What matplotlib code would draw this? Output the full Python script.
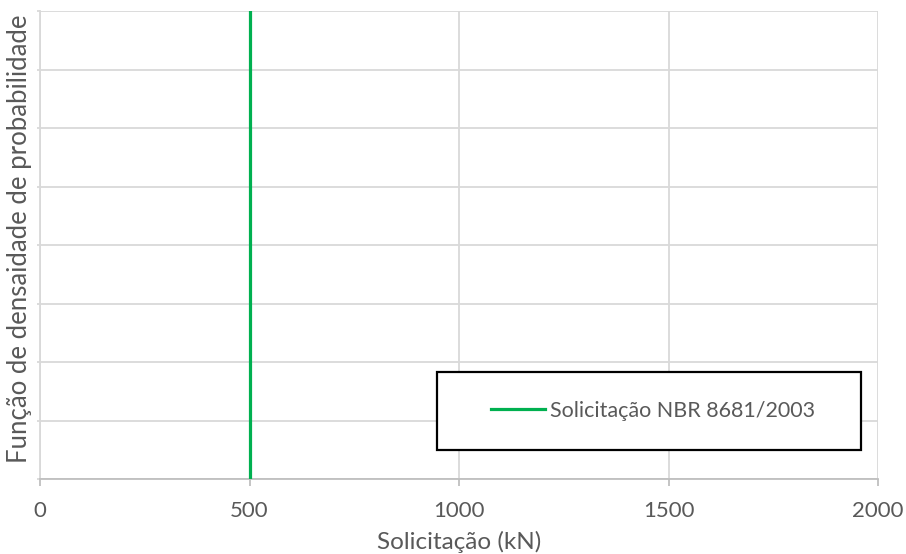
import numpy as np
import matplotlib.pyplot as plt
from matplotlib.patches import Rectangle

plt.rcParams['font.family'] = ['Lato', 'DejaVu Sans']

# design load from NBR 8681/2003 (kN), drawn as a vertical line over the pdf range
solicitacao_x = [500, 500]
densidade_y = [0, 8]
x_ticks = [0, 500, 1000, 1500, 2000]
y_grid = np.arange(0, 9)

fig = plt.figure(figsize=(9.06, 5.54), dpi=100)
ax = fig.add_axes([40 / 906, 1 - 479 / 554, 838 / 906, 468 / 554])

ax.plot(solicitacao_x, densidade_y, color='#00b050', lw=2.3,
        label='Solicitação NBR 8681/2003', zorder=3)

ax.set_xlim(0, 2000)
ax.set_ylim(0, 8)
ax.set_xticks(x_ticks)
ax.set_yticks(y_grid)
ax.set_yticklabels([])
ax.grid(True, color='#d9d9d9', lw=1.3)
ax.set_axisbelow(True)

for side in ['top', 'right']:
    ax.spines[side].set_visible(False)
ax.spines['left'].set_color('#d9d9d9')
ax.spines['left'].set_linewidth(1.3)
ax.spines['bottom'].set_color('#bfbfbf')
ax.spines['bottom'].set_linewidth(1.3)

ax.tick_params(axis='x', colors='#bfbfbf', labelcolor='#595959', labelsize=16,
               length=5, width=1.3, pad=11)
ax.tick_params(axis='y', colors='#d9d9d9', length=2, width=1.3)

ax.set_xlabel('Solicitação (kN)', fontsize=17.5, color='#595959', labelpad=7)
ax.set_ylabel('Função de densaidade de probabilidade', fontsize=18.5,
              color='#595959')
ax.yaxis.set_label_coords(-0.0095, 0.514)

# boxed legend in the lower right
box = Rectangle((397 / 838, 29 / 468), 424 / 838, 78 / 468, transform=ax.transAxes,
                facecolor='white', edgecolor='black', lw=1.6, zorder=4)
ax.add_patch(box)
leg = ax.legend(loc='center left', bbox_to_anchor=(451 / 838, 68 / 468),
                fontsize=15.5, labelcolor='#595959', frameon=False,
                handlelength=2.5, handletextpad=0.25,
                borderpad=0, borderaxespad=0)
leg.set_zorder(5)

fig.savefig('out.png', dpi=100)
